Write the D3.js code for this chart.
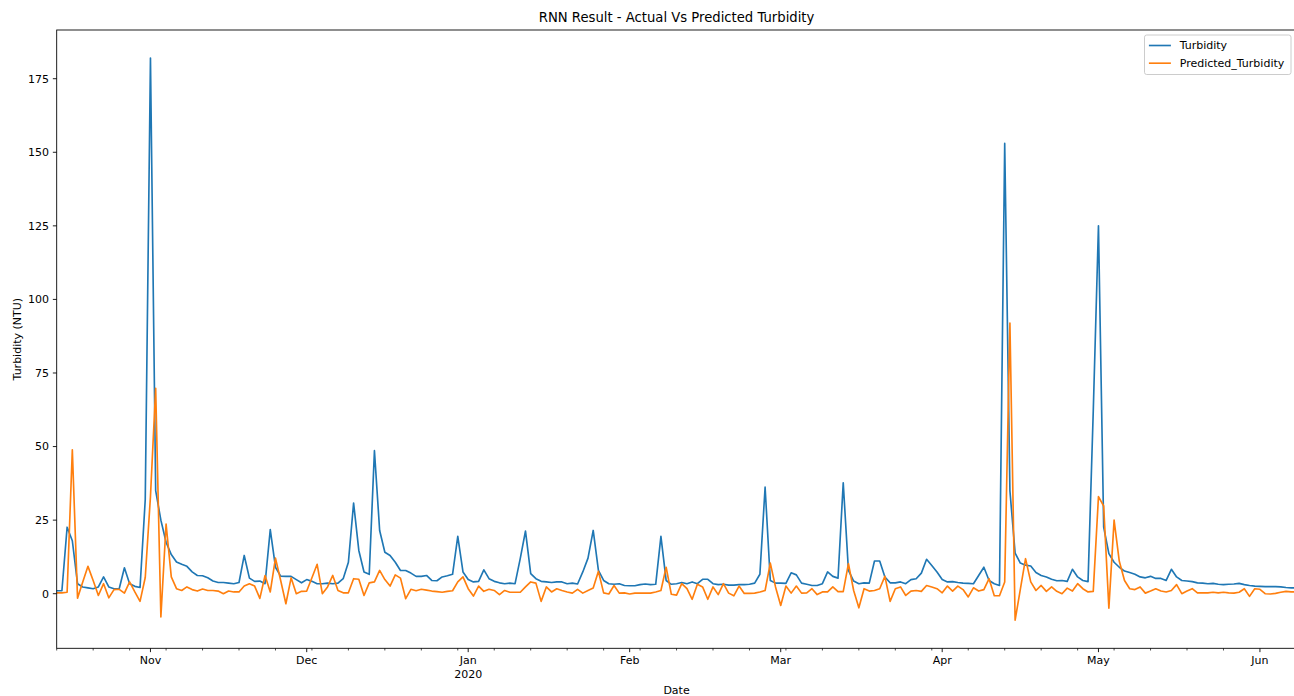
<!DOCTYPE html>
<html>
<head>
<meta charset="utf-8">
<script src="https://cdn.jsdelivr.net/npm/d3@7"></script>
<style>
  body { margin: 0; background: #fff; overflow: hidden; }
  svg { display: block; }
  svg text { font-family: "DejaVu Sans", sans-serif; fill: #000; }
</style>
</head>
<body>
<div id="chart"></div>
<script>
/* daily index starts here, one value per day */
var startDate = new Date(2019, 9, 14);

var turbidity = [
  1, 1, 22.6, 18, 3.4, 2.3, 2, 1.7, 2.3, 5.7,
  2.3, 1.7, 1.7, 8.8, 3.4, 2.5, 2.1, 32, 182, 35,
  25, 17.5, 13.3, 10.8, 10, 9.3, 7.4, 6.2, 6.1, 5.4,
  4.3, 3.8, 3.8, 3.6, 3.4, 3.8, 13, 5.3, 4.2, 4.3,
  3.4, 21.8, 9, 6, 5.9, 5.9, 4.8, 3.7, 4.8, 4.2,
  3.4, 3.4, 3.6, 3.4, 3.6, 5.1, 10.7, 30.8, 14.7, 7.4,
  6.6, 48.6, 21.5, 14.1, 13, 10.7, 7.9, 7.9, 7, 5.9,
  5.9, 6.2, 4.5, 4.4, 5.7, 6.1, 6.6, 19.5, 7.4, 4.8,
  4, 4.2, 8.1, 5.1, 4.2, 3.7, 3.4, 3.6, 3.4, 12,
  21.3, 6.8, 5.1, 4.2, 4, 3.8, 4, 4, 3.4, 3.6,
  3.3, 7.4, 12.1, 21.5, 7.9, 4.5, 3.4, 3.2, 3.4, 2.8,
  2.7, 2.7, 3.1, 3.3, 3.1, 3.2, 19.5, 4.5, 3.2, 3.4,
  3.8, 3.4, 4, 3.4, 4.9, 4.9, 3.4, 3.1, 3.2, 2.9,
  2.9, 3.1, 3.1, 3.2, 3.6, 6.6, 36.2, 4.5, 3.6, 3.6,
  3.5, 7.1, 6.4, 3.6, 3.2, 2.8, 2.8, 3.4, 7.4, 5.9,
  5.3, 37.7, 7.9, 4.3, 3.4, 3.7, 3.6, 11.1, 11.1, 5.7,
  3.7, 3.7, 4, 3.4, 4.8, 5.1, 7, 11.7, 9.6, 7.4,
  4.8, 4, 4.1, 3.8, 3.6, 3.5, 3.4, 6.2, 9, 4.5,
  3.4, 2.8, 153, 35, 13.8, 10.4, 9.7, 9.4, 7.2, 6.2,
  5.7, 4.9, 4.4, 4.5, 4.2, 8.3, 5.7, 4.5, 4.1, 62,
  125, 22.6, 13.6, 10.7, 9, 7.7, 7.2, 6.6, 5.7, 5.4,
  5.9, 5.2, 5.2, 4.5, 8.3, 5.7, 4.5, 4.3, 4.1, 3.7,
  3.6, 3.4, 3.5, 3.2, 3.1, 3.2, 3.3, 3.5, 3.1, 2.8,
  2.6, 2.5, 2.4, 2.4, 2.4, 2.3, 2.1, 2.0, 2.0
];

var predicted = [
  0.3, 0.3, 0.5, 48.9, -1.5, 4, 9.3, 4.5, -0.6, 3.4,
  -1.4, 1.4, 1.5, 0.2, 4, 0.6, -2.6, 5.5, 33, 69.8,
  -7.9, 23.7, 5.7, 1.7, 1.1, 2.3, 1.4, 0.9, 1.6, 1.1,
  1.1, 0.9, 0, 0.9, 0.6, 0.6, 2.6, 3.4, 2.6, -1.6,
  6.2, 0.6, 12.1, 4.5, -3.4, 5.4, 0, 0.8, 0.9, 5.4,
  10, 0, 2.3, 6.2, 1.1, 0.3, 0.3, 5.1, 4.9, -0.6,
  3.7, 4, 7.9, 4.8, 2.6, 6.4, 5.3, -1.7, 1.5, 1,
  1.5, 1.2, 0.9, 0.7, 0.5, 0.8, 1, 4, 5.7, 1.7,
  -0.8, 2.6, 0.8, 1.5, 1.1, -0.3, 1.1, 0.5, 0.5, 0.5,
  2.3, 4, 3.6, -2.6, 2.3, 0.6, 1.7, 1.1, 0.6, 0.2,
  1.5, 0.2, 1.1, 1.9, 7.6, 0.3, -0.1, 2.8, 0.2, 0.3,
  -0.1, 0.2, 0.2, 0.2, 0.2, 0.6, 1.1, 9, -0.2, -0.5,
  3.4, 1.7, -1.9, 3.2, 2.3, -1.9, 2.3, -0.3, 3.4, 0.2,
  -0.7, 2.6, 0.1, 0.1, 0.2, 0.6, 1.1, 10.4, 2.3, -4,
  2.6, 0.2, 2.6, 0.2, 0.3, 1.7, -0.3, 0.6, 0.6, 2.3,
  0.7, 0.7, 10.2, 1.1, -4.8, 1.7, 0.9, 1.1, 1.7, 5.9,
  -2.6, 1.7, 2.3, -0.6, 0.9, 1.1, 0.8, 2.8, 2.3, 1.7,
  0.3, 2.6, 0.9, 2.6, 1.4, -1.1, 2, 0.9, 1.4, 5.1,
  -0.7, -0.7, 4, 92, -9, 1.5, 11.9, 4, 1.1, 2.8,
  0.8, 2.3, 0.8, 0, 1.9, 0.9, 3.4, 1.7, 0.6, 0.8,
  33, 29.8, -4.9, 25, 11, 4.5, 1.7, 1.4, 2.3, 0.2,
  0.9, 1.7, 0.9, 0.6, 1.1, 3.1, 0, 0.9, 1.7, 0.3,
  0.3, 0.3, 0.5, 0.3, 0.5, 0.3, 0.2, 0.5, 1.7, -0.9,
  1.7, 1.5, 0, -0.1, 0.1, 0.5, 0.8, 0.6, 0.6
];

var seriesNames = ["Turbidity", "Predicted_Turbidity"];
var seriesColors = ["#1f77b4", "#ff7f0e"];
var monthLabels = ["Nov", "Dec", "Jan", "Feb", "Mar", "Apr", "May", "Jun"];
var yearLabel = "2020";
var yTicks = [0, 25, 50, 75, 100, 125, 150, 175];
var titleText = "RNN Result - Actual Vs Predicted Turbidity";

function drawChart() {
  /* figure geometry (top is reserved on window, so use a margin object) */
  var W = 1294, H = 696;
  var m = { left: 56.7, right: 1296.4, top: 30, bottom: 648.3 };
  var fs = 11, tickLen = 3.85, minorLen = 2.2;

  var dates = turbidity.map(function(d, i) { return d3.timeDay.offset(startDate, i); });
  var endDate = dates[dates.length - 1];

  var svg = d3.select("#chart").append("svg")
    .attr("width", W)
    .attr("height", H);
  svg.append("rect").attr("width", W).attr("height", H).attr("fill", "#fff");

  var x = d3.scaleTime()
    .domain([startDate, endDate])
    .range([m.left, m.right]);

  /* 5% margin like matplotlib autoscale */
  var all = turbidity.concat(predicted);
  var lo = d3.min(all),
    hi = d3.max(all),
    pad = (hi - lo) * 0.05;
  var y = d3.scaleLinear()
    .domain([lo - pad, hi + pad])
    .range([m.bottom, m.top]);

  /* lines */
  var series = [turbidity, predicted];
  var line = d3.line()
    .x(function(d, i) { return x(dates[i]); })
    .y(function(d) { return y(d); });

  series.forEach(function(s, k) {
    svg.append("path")
      .datum(s)
      .attr("fill", "none")
      .attr("stroke", seriesColors[k])
      .attr("stroke-width", 1.65)
      .attr("stroke-linejoin", "round")
      .attr("d", line);
  });

  /* x axis: month majors + monday minors */
  var majors = d3.timeMonth.range(d3.timeMonth.ceil(startDate), d3.timeDay.offset(endDate, 1));
  var majorKeys = majors.map(function(d) { return +d; });
  var minors = d3.timeMonday.range(startDate, d3.timeDay.offset(endDate, 1))
    .filter(function(d) { return majorKeys.indexOf(+d) < 0; });

  var gx = svg.append("g")
    .attr("transform", "translate(0," + m.bottom + ")");
  gx.selectAll(".minor").data(minors).enter().append("line")
    .attr("class", "minor")
    .attr("x1", function(d) { return x(d); })
    .attr("x2", function(d) { return x(d); })
    .attr("y1", 0).attr("y2", minorLen)
    .attr("stroke", "#000").attr("stroke-width", 0.7);
  gx.selectAll(".major").data(majors).enter().append("line")
    .attr("class", "major")
    .attr("x1", function(d) { return x(d); })
    .attr("x2", function(d) { return x(d); })
    .attr("y1", 0).attr("y2", tickLen)
    .attr("stroke", "#000").attr("stroke-width", 0.88);
  gx.selectAll(".mlabel").data(majors).enter().append("text")
    .attr("class", "mlabel")
    .attr("x", function(d) { return x(d); })
    .attr("y", tickLen + 3.85)
    .attr("dy", "0.76em")
    .attr("text-anchor", "middle")
    .attr("font-size", fs)
    .text(function(d, i) { return monthLabels[i]; });
  gx.append("text")
    .attr("x", x(majors[monthLabels.indexOf("Jan")]))
    .attr("y", tickLen + 3.85 + fs * 1.2)
    .attr("dy", "0.76em")
    .attr("text-anchor", "middle")
    .attr("font-size", fs)
    .text(yearLabel);

  /* y axis */
  var gy = svg.append("g");
  gy.selectAll("line").data(yTicks).enter().append("line")
    .attr("x1", m.left - tickLen).attr("x2", m.left)
    .attr("y1", function(d) { return y(d); })
    .attr("y2", function(d) { return y(d); })
    .attr("stroke", "#000").attr("stroke-width", 0.88);
  gy.selectAll("text").data(yTicks).enter().append("text")
    .attr("x", m.left - tickLen - 3.85)
    .attr("y", function(d) { return y(d); })
    .attr("dy", "0.35em")
    .attr("text-anchor", "end")
    .attr("font-size", fs)
    .text(function(d) { return d; });

  /* spines */
  svg.append("rect")
    .attr("x", m.left).attr("y", m.top)
    .attr("width", m.right - m.left).attr("height", m.bottom - m.top)
    .attr("fill", "none")
    .attr("stroke", "#000")
    .attr("stroke-width", 0.88);

  /* labels */
  svg.append("text")
    .attr("x", (m.left + m.right) / 2).attr("y", 22)
    .attr("text-anchor", "middle")
    .attr("font-size", 13.2)
    .text(titleText);
  svg.append("text")
    .attr("x", (m.left + m.right) / 2).attr("y", 693.5)
    .attr("text-anchor", "middle")
    .attr("font-size", fs)
    .text("Date");
  svg.append("text")
    .attr("transform", "translate(20.5," + (m.top + m.bottom) / 2 + ") rotate(-90)")
    .attr("text-anchor", "middle")
    .attr("font-size", fs)
    .text("Turbidity (NTU)");

  /* legend */
  var lgX = 1144.5, lgY = 35, lgW = 146.5, lgH = 39.5;
  var lg = svg.append("g");
  lg.append("rect")
    .attr("x", lgX).attr("y", lgY)
    .attr("width", lgW).attr("height", lgH)
    .attr("rx", 2.2)
    .attr("fill", "#fff").attr("fill-opacity", 0.8)
    .attr("stroke", "#cccccc").attr("stroke-width", 1);
  seriesNames.forEach(function(name, k) {
    var cy = lgY + 10.5 + k * 17.7;
    lg.append("line")
      .attr("x1", lgX + 4.4).attr("x2", lgX + 26.4)
      .attr("y1", cy).attr("y2", cy)
      .attr("stroke", seriesColors[k]).attr("stroke-width", 1.65);
    lg.append("text")
      .attr("x", lgX + 35.2).attr("y", cy)
      .attr("dy", "0.35em")
      .attr("font-size", fs)
      .text(name);
  });
}

drawChart();
</script>
</body>
</html>
